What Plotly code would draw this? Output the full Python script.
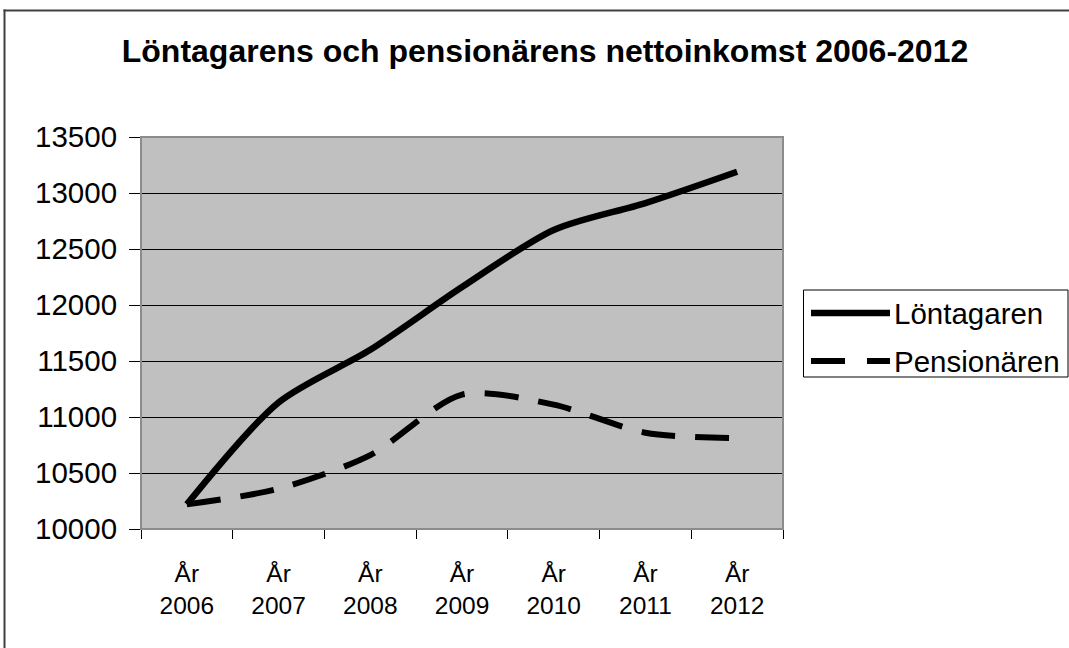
import plotly.graph_objects as go

categories = ["År<br>2006", "År<br>2007", "År<br>2008", "År<br>2009", "År<br>2010", "År<br>2011", "År<br>2012"]
lontagaren = [10220, 11130, 11600, 12160, 12670, 12910, 13190]
pensionaren = [10220, 10360, 10660, 11200, 11110, 10860, 10810]
series_names = ["Löntagaren", "Pensionären"]
y_ticks = [10000, 10500, 11000, 11500, 12000, 12500, 13000, 13500]

W, H = 1069, 648
L, R, T, B = 141, 783, 137, 529  # plot area in pixels


def px(x):
    return (x - L) / (R - L)


def py(y):
    return (B - y) / (B - T)


fig = go.Figure()
fig.add_trace(go.Scatter(x=categories, y=lontagaren, mode="lines", name=series_names[0],
                         line=dict(color="black", width=6.5, shape="spline", smoothing=0.8),
                         showlegend=False))
fig.add_trace(go.Scatter(x=categories, y=pensionaren, mode="lines", name=series_names[1],
                         line=dict(color="black", width=6, shape="spline", smoothing=0.8, dash="34px,20px"),
                         showlegend=False))

font = "Liberation Sans, Arial, sans-serif"
shapes = [
    dict(type="line", xref="paper", yref="paper", x0=px(3.5), x1=px(1069), y0=py(10.5), y1=py(10.5),
         line=dict(color="#404040", width=2), layer="below"),
    dict(type="line", xref="paper", yref="paper", x0=px(4.5), x1=px(4.5), y0=py(9.5), y1=py(648),
         line=dict(color="#404040", width=2), layer="below"),
    dict(type="rect", xref="paper", yref="paper", x0=0, x1=1, y0=0, y1=1,
         line=dict(color="#8c8c8c", width=2), layer="above"),
    dict(type="rect", xref="paper", yref="paper", x0=px(803.5), x1=px(1068), y0=py(377), y1=py(290),
         line=dict(color="black", width=1)),
    dict(type="line", xref="paper", yref="paper", x0=px(811), x1=px(890), y0=py(313), y1=py(313),
         line=dict(color="black", width=6.5)),
    dict(type="line", xref="paper", yref="paper", x0=px(811), x1=px(890), y0=py(361), y1=py(361),
         line=dict(color="black", width=6, dash="34px,22px")),
]
annotations = [
    dict(xref="paper", yref="paper", x=px(892), y=py(313), text=series_names[0], showarrow=False,
         xanchor="left", yanchor="middle", font=dict(family=font, size=29.5, color="black")),
    dict(xref="paper", yref="paper", x=px(892), y=py(361), text=series_names[1], showarrow=False,
         xanchor="left", yanchor="middle", font=dict(family=font, size=29.5, color="black")),
]

fig.update_layout(
    width=W, height=H,
    margin=dict(l=L, r=W - R, t=T, b=H - B, pad=0),
    paper_bgcolor="white", plot_bgcolor="#c0c0c0",
    title=dict(text="<b>Löntagarens och pensionärens nettoinkomst 2006-2012</b>",
               x=545 / W, xanchor="center", y=1 - 51 / H, yanchor="middle",
               font=dict(family=font, size=32, color="black")),
    showlegend=False,
    shapes=shapes, annotations=annotations,
    xaxis=dict(type="category", showgrid=False, showline=True, linecolor="black", linewidth=1,
               ticks="outside", ticklen=9, tickcolor="black", tickson="boundaries",
               ticklabelstandoff=23,
               tickfont=dict(family=font, size=24.5, color="black"), zeroline=False,
               range=[-0.5, 6.5]),
    yaxis=dict(range=[10000, 13500], tickvals=y_ticks, tickformat="d", showgrid=True, gridcolor="black",
               gridwidth=1, showline=True, linecolor="black", linewidth=1, ticks="outside", ticklen=11,
               tickcolor="black", zeroline=False, ticklabelstandoff=6,
               tickfont=dict(family=font, size=29.5, color="black")),
)

fig.write_html("out.html", config={"displayModeBar": False},
               post_script="document.body.style.margin='0px';"
                           "document.documentElement.style.overflow='hidden';"
                           "document.body.style.overflow='hidden';")
